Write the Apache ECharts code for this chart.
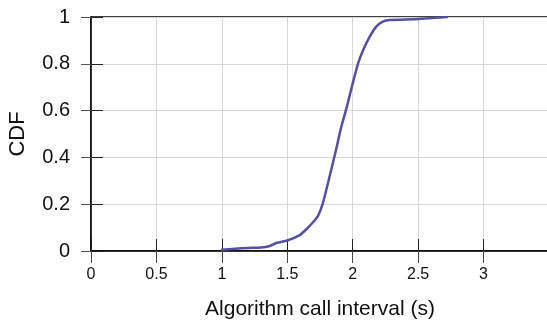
<!DOCTYPE html>
<html>
<head>
<meta charset="utf-8">
<script src="https://cdn.jsdelivr.net/npm/echarts@6/dist/echarts.min.js"></script>
<style>
  html, body { margin: 0; padding: 0; background: #fff; }
  #chart { width: 547px; height: 322px; }
</style>
</head>
<body>
<div id="chart"></div>
<script>
// CDF of algorithm call interval
const intervalSec = [1.00, 1.10, 1.20, 1.30, 1.36, 1.42, 1.50, 1.595, 1.65, 1.70, 1.735, 1.77, 1.80, 1.837, 1.876, 1.908, 1.957, 1.997, 2.04, 2.08, 2.13, 2.18, 2.23, 2.28, 2.50, 2.72];
const cdfValues = [0.005, 0.010, 0.013, 0.015, 0.020, 0.035, 0.045, 0.068, 0.095, 0.125, 0.15, 0.20, 0.265, 0.35, 0.44, 0.52, 0.62, 0.71, 0.80, 0.859, 0.916, 0.959, 0.98, 0.987, 0.991, 1.0];
const xTicks = [0, 0.5, 1, 1.5, 2, 2.5, 3];
const yTicks = [0, 0.2, 0.4, 0.6, 0.8, 1];

const chart = echarts.init(document.getElementById("chart"));
const font = "Liberation Sans, Arial, sans-serif";

const option = {
  animation: false,
  grid: {
    left: 91,
    top: 17,
    width: 458,
    height: 234,
    outerBoundsMode: "none",
    containLabel: false,
    show: true,
    borderColor: "#000",
    borderWidth: 1.5,
  },
  xAxis: [
    {
      type: "value",
      min: 0,
      max: 3.5,
      interval: 0.5,
      name: "Algorithm call interval (s)",
      nameLocation: "middle",
      nameGap: 48,
      nameTextStyle: { fontFamily: font, fontSize: 21, color: "#111" },
      axisLine: { show: true, lineStyle: { color: "#000", width: 1.5 } },
      axisTick: { show: true, inside: true, length: 12, lineStyle: { color: "#222" } },
      axisLabel: {
        fontFamily: font,
        fontSize: 16,
        color: "#111",
        margin: 16,
        formatter: (v) => (xTicks.includes(v) ? String(v) : ""),
      },
      splitLine: { show: true, lineStyle: { color: "#d6d6d6", width: 1 } },
    },
    {
      type: "value",
      position: "top",
      min: 0,
      max: 3.5,
      interval: 0.5,
      axisLine: { show: false },
      axisTick: { show: true, inside: true, length: 12, lineStyle: { color: "#444" } },
      axisLabel: { show: false },
      splitLine: { show: false },
    },
  ],
  yAxis: [
    {
      type: "value",
      min: 0,
      max: 1,
      interval: 0.2,
      name: "CDF",
      nameLocation: "middle",
      nameGap: 62,
      nameTextStyle: { fontFamily: font, fontSize: 22, color: "#111" },
      axisLine: { show: true, lineStyle: { color: "#000", width: 1.5 } },
      axisTick: { show: true, inside: true, length: 12, lineStyle: { color: "#222" } },
      axisLabel: {
        fontFamily: font,
        fontSize: 20,
        color: "#111",
        margin: 21,
        formatter: (v) => (yTicks.some((t) => Math.abs(t - v) < 1e-9) ? String(+v.toFixed(1)) : ""),
      },
      splitLine: { show: true, lineStyle: { color: "#d6d6d6", width: 1 } },
    },
    {
      type: "value",
      position: "right",
      min: 0,
      max: 1,
      interval: 0.2,
      axisLine: { show: false },
      axisTick: { show: true, inside: true, length: 10, lineStyle: { color: "#555" } },
      axisLabel: { show: false },
      splitLine: { show: false },
    },
  ],
  series: [
    {
      type: "line",
      data: intervalSec.map((x, i) => [x, cdfValues[i]]),
      smooth: 0.15,
      showSymbol: false,
      lineStyle: { color: "#574fa0", width: 2.5, join: "round", cap: "round" },
    },
  ],
};

chart.setOption(option);
</script>
</body>
</html>
